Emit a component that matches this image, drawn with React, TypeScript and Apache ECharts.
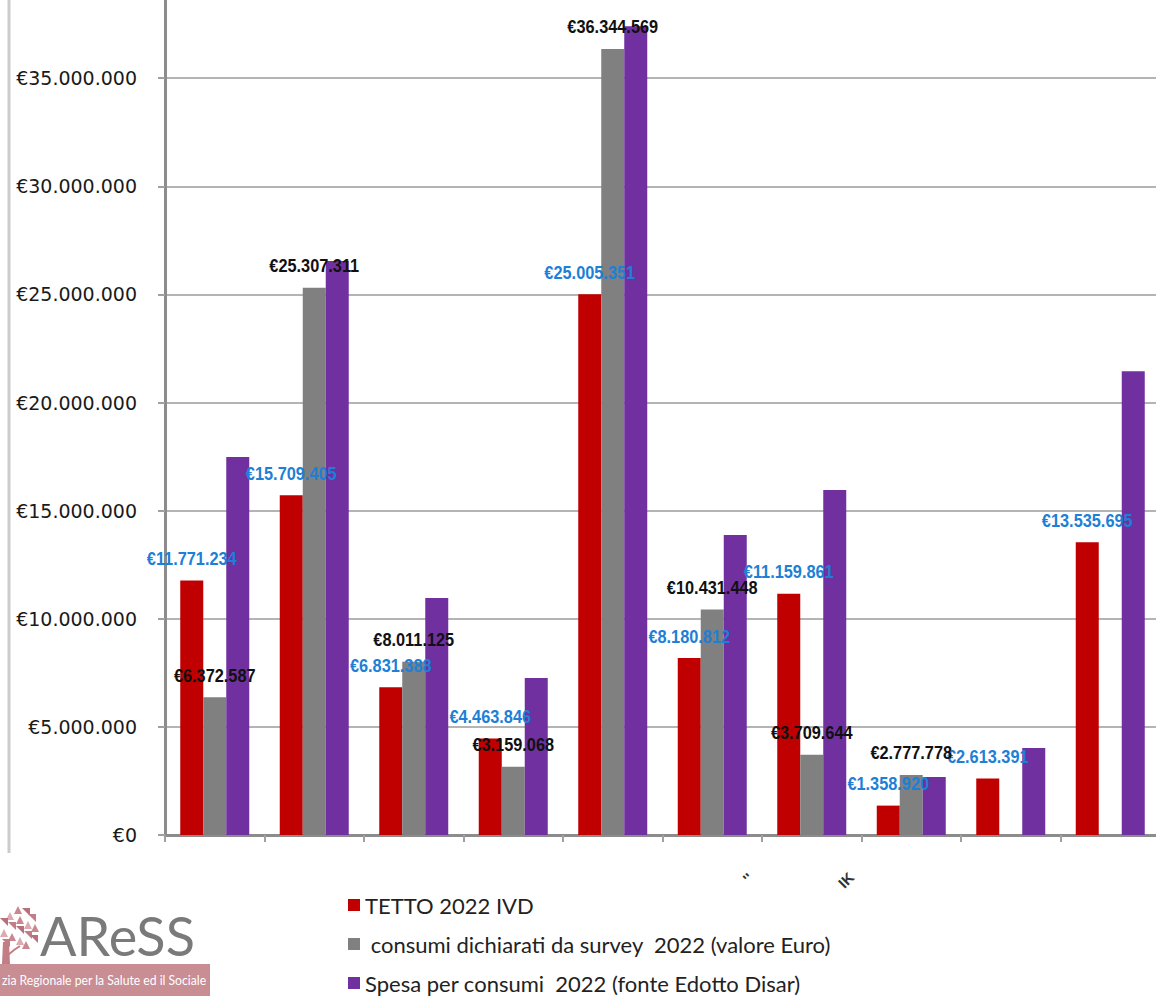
import React, { useEffect, useRef } from "react";
import * as echarts from "echarts";

const categories = ["1", "2", "3", "4", "5", "6", "7", "8", "9", "10"];
const tetto = [11771234, 15709405, 6831388, 4463846, 25005351, 8180812, 11159861, 1358920, 2613391, 13535695];
const survey = [6372587, 25307311, 8011125, 3159068, 36344569, 10431448, 3709644, 2777778, null, null];
const spesa = [17480000, 26540000, 10960000, 7260000, 37400000, 13870000, 15950000, 2680000, 4020000, 21450000];
const seriesNames = [
  "TETTO 2022 IVD",
  " consumi dichiarati da survey  2022 (valore Euro)",
  "Spesa per consumi  2022 (fonte Edotto Disar)",
];
const yTicks = { min: 0, max: 40000000, interval: 5000000 };

const fmt = (v: number) => "€" + Math.round(v).toString().replace(/\B(?=(\d{3})+(?!\d))/g, ".");

const RED = "#c00000";
const GREY = "#808080";
const PURPLE = "#7030a0";
const OY = 30; // chart canvas extends 30px above the visible page
const BAR_W = 23;

function treeTriangles() {
  const pink = ["#c9878f", "#b8707a", "#dcaab0", "#c27d86"];
  const tris: any[] = [];
  const pts: [number, number][] = [
    [14, 906], [22, 908], [6, 912], [28, 914], [16, 916], [0, 918], [24, 921],
    [8, 922], [31, 924], [16, 926], [0, 929], [24, 931], [8, 933], [30, 935],
    [16, 937], [2, 939], [22, 941],
  ];
  pts.forEach((p, i) => {
    const [x, y0] = p;
    const y = y0 + OY;
    const s = 8;
    const up = i % 2 === 0;
    tris.push({
      type: "polygon",
      shape: {
        points: up
          ? [[x, y + s], [x + s, y + s], [x + s / 2, y]]
          : [[x, y], [x + s, y], [x + s, y + s]],
      },
      style: { fill: pink[i % pink.length] },
    });
  });
  tris.push({
    type: "polygon",
    shape: { points: [[3, 942 + OY], [9, 942 + OY], [10, 964 + OY], [2, 964 + OY]] },
    style: { fill: "#c27d86" },
  });
  tris.push({
    type: "polyline",
    shape: { points: [[8, 955 + OY], [14, 950 + OY], [20, 946 + OY]] },
    style: { stroke: "#c27d86", lineWidth: 2, fill: "none" },
  });
  return tris;
}

function labelSeries(values: (number | null)[], offset: number, color: string) {
  const data: [number, number][] = [];
  values.forEach((v, i) => {
    if (v != null) data.push([i, v]);
  });
  return {
    type: "custom",
    data,
    z: 10,
    silent: true,
    encode: { x: 0, y: 1 },
    renderItem: (_params: any, api: any) => {
      const v = api.value(1);
      const p = api.coord([api.value(0), v]);
      return {
        type: "text",
        x: p[0] + offset,
        y: p[1] - 22,
        scaleX: 0.86,
        style: {
          text: fmt(v),
          align: "center",
          verticalAlign: "middle",
          fontFamily: "'Liberation Sans', Arial, sans-serif",
          fontWeight: "bold",
          fontSize: 19,
          fill: color,
        },
      };
    },
  };
}

export default function App() {
  const ref = useRef<HTMLDivElement>(null);
  useEffect(() => {
    if (!ref.current) return;
    const chart = echarts.init(ref.current, undefined, { renderer: "svg" });
    chart.setOption({
      animation: false,
      backgroundColor: "#ffffff",
      grid: { left: 165, top: 0, width: 995, height: 865, outerBoundsMode: "none", containLabel: false },
      xAxis: {
        type: "category",
        data: categories,
        axisLine: { lineStyle: { color: "#8c8c8c", width: 3 } },
        axisTick: { show: true, length: 7, lineStyle: { color: "#a0a0a0", width: 2 } },
        axisLabel: { show: false },
        splitLine: { show: false },
      },
      yAxis: {
        type: "value",
        min: yTicks.min,
        max: yTicks.max,
        interval: yTicks.interval,
        axisLine: { show: true, lineStyle: { color: "#8c8c8c", width: 3 } },
        axisTick: { show: true, length: 7, lineStyle: { color: "#a0a0a0", width: 2 } },
        axisLabel: {
          margin: 28,
          showMaxLabel: false,
          fontFamily: "'DejaVu Sans', sans-serif",
          fontSize: 19,
          color: "#1a1a1a",
          formatter: (v: number) => fmt(v),
        },
        splitLine: { show: true, lineStyle: { color: "#b4b4b4", width: 2 } },
      },
      legend: {
        orient: "vertical",
        left: 348,
        top: 894 + OY,
        padding: 0,
        itemWidth: 12,
        itemHeight: 12,
        itemGap: 17,
        icon: "rect",
        selectedMode: false,
        textStyle: { fontFamily: "Lato, 'Open Sans', sans-serif", fontSize: 22, color: "#222", lineHeight: 22 },
        data: seriesNames,
      },
      series: [
        {
          name: seriesNames[0],
          type: "bar",
          data: tetto,
          barWidth: BAR_W,
          barGap: "0%",
          itemStyle: { color: RED },
        },
        {
          name: seriesNames[1],
          type: "bar",
          data: survey,
          barWidth: BAR_W,
          barGap: "0%",
          itemStyle: { color: GREY },
        },
        {
          name: seriesNames[2],
          type: "bar",
          data: spesa,
          barWidth: BAR_W,
          barGap: "0%",
          itemStyle: { color: PURPLE },
        },
        labelSeries(tetto, -BAR_W, "#1e7fd6"),
        labelSeries(survey, 0, "#111111"),
      ],
      graphic: [
        {
          type: "line",
          shape: { x1: 9, y1: 0, x2: 9, y2: 853 + OY },
          style: { stroke: "#cccccc", lineWidth: 3 },
        },
        {
          type: "text",
          x: 748,
          y: 878 + OY,
          rotation: Math.PI / 4,
          style: { text: "''", fontSize: 15, fontWeight: "bold", fill: "#333", fontFamily: "'Liberation Sans', sans-serif", align: "center", verticalAlign: "middle" },
        },
        {
          type: "text",
          x: 846,
          y: 880 + OY,
          rotation: Math.PI / 4,
          style: { text: "IK", fontSize: 15, fontWeight: "bold", fill: "#333", fontFamily: "'Liberation Sans', sans-serif", align: "center", verticalAlign: "middle" },
        },
        ...treeTriangles(),
        {
          type: "text",
          x: 40,
          y: 935 + OY,
          style: { text: "AReSS", fontSize: 54, fill: "#7a7a7a", fontFamily: "Lato, 'Open Sans', sans-serif", verticalAlign: "middle" },
        },
        {
          type: "rect",
          shape: { x: 0, y: 964 + OY, width: 210, height: 32 },
          style: { fill: "#c98d94" },
        },
        {
          type: "text",
          x: 2,
          y: 980 + OY,
          scaleX: 0.87,
          style: { text: "zia Regionale per la Salute ed il Sociale", fontSize: 14, fill: "#ffffff", fontFamily: "Lato, 'Open Sans', sans-serif", verticalAlign: "middle" },
        },
      ],
    });
    return () => chart.dispose();
  }, []);
  return (
    <div style={{ position: "absolute", left: 0, top: 0, width: 1156, height: 996, overflow: "hidden", background: "#fff" }}>
      <div ref={ref} style={{ position: "absolute", left: 0, top: -OY, width: 1156, height: 996 + OY }} />
    </div>
  );
}
